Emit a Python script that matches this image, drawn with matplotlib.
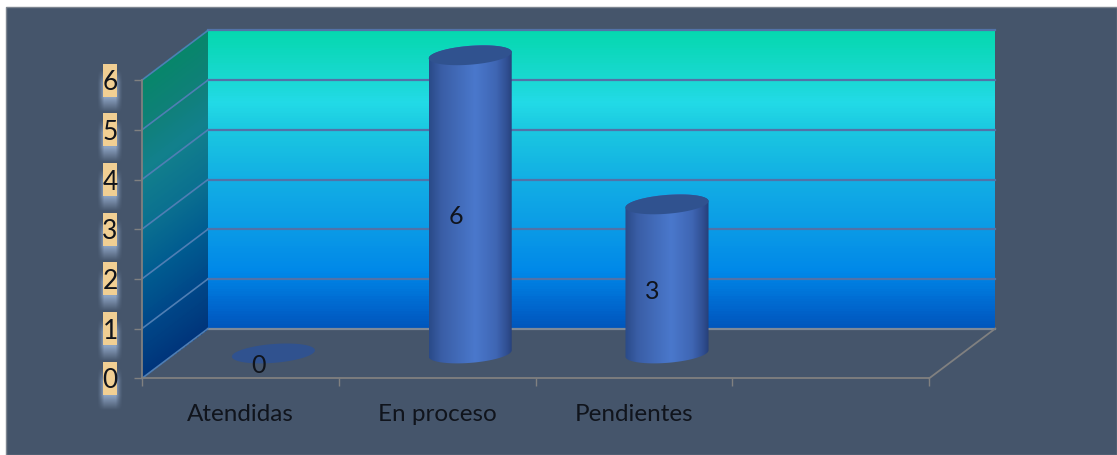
import numpy as np
import matplotlib
matplotlib.use("Agg")
import matplotlib.pyplot as plt
from matplotlib.colors import LinearSegmentedColormap
from matplotlib.patches import Polygon, Rectangle

categories = ["Atendidas", "En proceso", "Pendientes"]
values = [0, 6, 3]
y_ticks = [0, 1, 2, 3, 4, 5, 6]

W, H = 1117, 455
PX_X, PX_Y = 196.8, 49.7          # pixels per category / per unit
X0, Y0 = 142.0, 378.3             # pixel position of the data origin
DX, DY = 66 / PX_X, 1.0           # 3D depth vector in data units
NCAT = 4
YMAX = 6
PANEL = "#45556b"

plt.rcParams["font.family"] = ["Lato", "DejaVu Sans"]
fig = plt.figure(figsize=(W / 100, H / 100), dpi=100, facecolor="white")
fig.patches.append(Rectangle((6 / W, 0), 1 - 6 / W, 1 - 7 / H, transform=fig.transFigure,
                             facecolor=PANEL, edgecolor="#7d8590", lw=1, zorder=-5))
ax = fig.add_axes([0, 0, 1, 1], facecolor="none", zorder=2)
ax.set_xlim(-X0 / PX_X, (W - X0) / PX_X)
ax.set_ylim((Y0 - H) / PX_Y, Y0 / PX_Y)
ax.set_autoscale_on(False)

# walls
wall_cmap = LinearSegmentedColormap.from_list("wall", [
    (0.00, "#0055bb"), (0.08, "#0068cf"), (0.19, "#0088e8"), (0.33, "#0a9ae6"),
    (0.50, "#12aee4"), (0.66, "#1ac6e0"), (0.76, "#22dae6"), (0.85, "#18d8cf"), (1.00, "#04d8ae")])
side_cmap = LinearSegmentedColormap.from_list("side", [
    (0.00, "#00347a"), (0.17, "#004788"), (0.33, "#005b90"), (0.50, "#0a6f90"),
    (0.70, "#12808c"), (0.85, "#0f8078"), (1.00, "#07866a")])
lev = np.linspace(0, 1, 120)
g = lev[:-1] + 0.5 / 119
Xb, Yb = np.meshgrid([DX, NCAT + DX], DY + lev * YMAX)
ax.pcolormesh(Xb, Yb, g[:, None], cmap=wall_cmap, vmin=0, vmax=1, zorder=1, shading="flat")
Xs = np.array([[0, DX]] * len(lev))
Ys = np.column_stack([lev * YMAX, lev * YMAX + DY])
ax.pcolormesh(Xs, Ys, g[:, None], cmap=side_cmap, vmin=0, vmax=1, zorder=1, shading="flat")

# gridlines
for v in y_ticks:
    c = "#5272a8" if 0 < v else "#7f8a98"
    ax.plot([DX, NCAT + DX], [v + DY, v + DY], color=c, lw=1.6, zorder=2)
    ax.plot([0, DX], [v, v + DY], color="#4f7eb4", lw=1.2, zorder=2)
ax.plot([NCAT, NCAT + DX], [0, DY], color="#808080", lw=1.3, zorder=2)

# cylinders
bar_cmap = LinearSegmentedColormap.from_list("bar", [
    (0.00, "#2a4a88"), (0.15, "#3a5ea6"), (0.55, "#4a78cc"), (0.80, "#3f66b4"),
    (0.93, "#304f92"), (1.00, "#263f78")])
a = 0.2                # half width along x (category units)
k = 0.2                # share of the depth vector used by the ellipse
t = np.linspace(0, 2 * np.pi, 200)
ex = a * np.cos(t) + k * DX * np.sin(t)
ey = k * DY * np.sin(t)
half = np.hypot(a, k * DX)
t_right = np.arctan2(k * DX, a)
tlow = np.linspace(t_right + np.pi, t_right + 2 * np.pi, 100)
lx = a * np.cos(tlow) + k * DX * np.sin(tlow)
ly = k * DY * np.sin(tlow)
thigh = np.linspace(t_right, t_right + np.pi, 100)
hx = a * np.cos(thigh) + k * DX * np.sin(thigh)
hy = k * DY * np.sin(thigh)

for i, v in enumerate(values):
    cx = i + 0.5 + DX / 2
    base = DY / 2
    if v > 0:
        body = Polygon(np.vstack([np.column_stack([cx + lx, base + ly]),
                                  np.column_stack([cx + hx, base + v + hy])]),
                       closed=True, transform=ax.transData, facecolor="none", edgecolor="none")
        ax.add_patch(body)
        im = ax.imshow(np.linspace(0, 1, 256)[None, :], cmap=bar_cmap, aspect="auto",
                       extent=(cx - half, cx + half, base - 0.3, base + v + 0.3), zorder=3)
        im.set_clip_path(body)
    ax.fill(cx + ex, base + v + ey, color="#30528f", lw=0, zorder=4)
    ax.text(cx - 14.5 / PX_X, v / 2 + 0.25, str(v), ha="center", va="center",
            fontsize=18, color="#10141c", zorder=6)

# axes: real spines and ticks
for s in ("top", "right"):
    ax.spines[s].set_visible(False)
ax.spines["bottom"].set_position(("data", 0))
ax.spines["left"].set_position(("data", 0))
ax.spines["bottom"].set_bounds(0, NCAT)
ax.spines["left"].set_bounds(0, YMAX)
for s in ("bottom", "left"):
    ax.spines[s].set_color("#808080")
    ax.spines[s].set_linewidth(1.3)
    ax.spines[s].set_zorder(5)
ax.set_xticks(range(NCAT + 1))
ax.set_xticklabels([])
ax.tick_params(axis="x", which="major", length=6, width=1, color="#808080", direction="out")
ax.set_xticks([i + 0.5 for i in range(len(categories))], minor=True)
ax.set_xticklabels(categories, minor=True, fontsize=17.5, color="#10141c")
ax.tick_params(axis="x", which="minor", length=0, pad=18.5)
ax.set_yticks(y_ticks)
ax.set_yticklabels([str(v) for v in y_ticks], fontsize=19, color="#10141c", zorder=8)
ax.tick_params(axis="y", length=6, width=1, color="#808080", direction="out", pad=17)
for lab in ax.get_yticklabels():
    lab.set_horizontalalignment("center")

# beige boxes and soft blue glow behind the value-axis labels
bx0 = -39 / PX_X
bw = 14 / PX_X
bh = 33 / PX_Y
gw, gh = 26, 42                     # glow size in pixels
gx = (np.arange(gw) + 0.5 - gw / 2) / (gw / 2)
gy = (np.arange(gh) + 0.5) / gh     # 0 = top of glow, 1 = bottom
soft_x = np.clip((1 - np.abs(gx)) / 0.55, 0, 1) ** 1.5
soft_y = np.clip(gy / 0.3, 0, 1) * np.clip((1 - gy) / 0.35, 0, 1)
rgba = np.zeros((gh, gw, 4))
rgba[..., :3] = matplotlib.colors.to_rgb("#93a8c8")
rgba[..., 3] = soft_x[None, :] * soft_y[:, None] * 0.95
for v in y_ticks:
    ax.imshow(rgba, aspect="auto", zorder=0.5, interpolation="bilinear",
              extent=(bx0 + bw / 2 - gw / 2 / PX_X, bx0 + bw / 2 + gw / 2 / PX_X,
                      v - 32 / PX_Y, v - 32 / PX_Y + gh / PX_Y))
    ax.add_patch(Rectangle((bx0, v - bh / 2), bw, bh, facecolor="#f1cf93", edgecolor="none", zorder=0.8))

fig.savefig("out.png", dpi=100, facecolor=fig.get_facecolor())
